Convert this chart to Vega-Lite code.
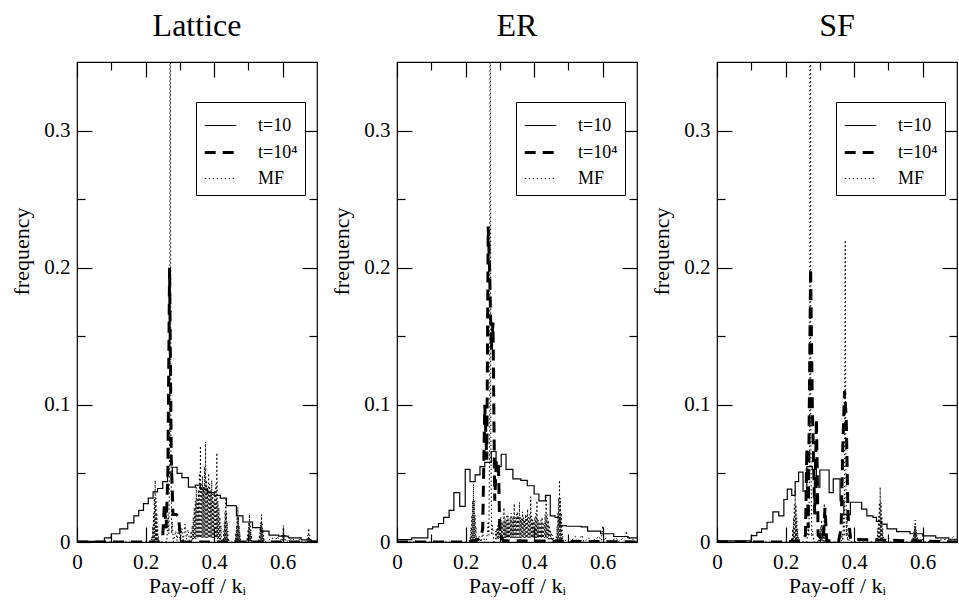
{
  "$schema": "https://vega.github.io/schema/vega-lite/v6.json",
  "padding": {"left": 10, "top": 9, "right": 0, "bottom": 0},
  "spacing": 80,
  "bounds": "flush",
  "resolve": {"scale": {"strokeDash": "independent", "strokeWidth": "independent"}, "legend": {"strokeDash": "independent", "strokeWidth": "independent"}},
  "config": {
    "font": "Liberation Serif",
    "view": {"stroke": "black", "strokeWidth": 1.2},
    "axis": {"domain": false, "grid": false, "tickColor": "black", "tickWidth": 1.2, "labelFont": "Liberation Serif", "labelFontSize": 21, "labelColor": "black", "titleFont": "Liberation Serif", "titleFontSize": 22, "titleFontWeight": "normal", "titleColor": "black", "labelFlush": false, "labelOverlap": false},
    "title": {"font": "Liberation Serif", "fontSize": 32, "fontWeight": "normal", "color": "black", "anchor": "middle", "offset": 18},
    "legend": {"labelFont": "Liberation Serif", "labelFontSize": 18, "labelColor": "black", "symbolType": "stroke", "symbolSize": 1000, "symbolStrokeColor": "black", "strokeColor": "black", "fillColor": "white", "padding": 7, "rowPadding": 0, "labelOffset": 20, "cornerRadius": 0},
    "line": {"color": "black"}
  },
  "hconcat": [
    {
      "title": {"text": "Lattice"},
      "width": 240, "height": 480,
      "data": {"values": [
        {"s":"t=10","x":0,"y":0.0005},{"s":"t=10","x":0.08,"y":0.003},{"s":"t=10","x":0.1,"y":0.006},{"s":"t=10","x":0.125,"y":0.0095},{"s":"t=10","x":0.148,"y":0.014},{"s":"t=10","x":0.166,"y":0.019},{"s":"t=10","x":0.18,"y":0.023},{"s":"t=10","x":0.194,"y":0.028},{"s":"t=10","x":0.208,"y":0.032},{"s":"t=10","x":0.222,"y":0.0365},{"s":"t=10","x":0.235,"y":0.039},{"s":"t=10","x":0.25,"y":0.044},{"s":"t=10","x":0.264,"y":0.051},{"s":"t=10","x":0.278,"y":0.0545},{"s":"t=10","x":0.292,"y":0.05},{"s":"t=10","x":0.306,"y":0.047},{"s":"t=10","x":0.325,"y":0.04},{"s":"t=10","x":0.345,"y":0.0415},{"s":"t=10","x":0.36,"y":0.0385},{"s":"t=10","x":0.38,"y":0.036},{"s":"t=10","x":0.4,"y":0.034},{"s":"t=10","x":0.418,"y":0.032},{"s":"t=10","x":0.436,"y":0.0265},{"s":"t=10","x":0.465,"y":0.019},{"s":"t=10","x":0.484,"y":0.0146},{"s":"t=10","x":0.512,"y":0.0105},{"s":"t=10","x":0.535,"y":0.008},{"s":"t=10","x":0.56,"y":0.005},{"s":"t=10","x":0.588,"y":0.0043},{"s":"t=10","x":0.616,"y":0.003},{"s":"t=10","x":0.654,"y":0.0015},{"s":"t=10","x":0.683,"y":0.0007},{"s":"t=10","x":0.7,"y":0.0007},
        {"s":"t=10⁴","x":0,"y":0},{"s":"t=10⁴","x":0.24,"y":0},{"s":"t=10⁴","x":0.25,"y":0.004},{"s":"t=10⁴","x":0.255,"y":0.028},{"s":"t=10⁴","x":0.26,"y":0.01},{"s":"t=10⁴","x":0.265,"y":0.05},{"s":"t=10⁴","x":0.27,"y":0.2},{"s":"t=10⁴","x":0.275,"y":0.06},{"s":"t=10⁴","x":0.28,"y":0.02},{"s":"t=10⁴","x":0.29,"y":0.02},{"s":"t=10⁴","x":0.296,"y":0.018},{"s":"t=10⁴","x":0.302,"y":0.003},{"s":"t=10⁴","x":0.31,"y":0},{"s":"t=10⁴","x":0.7,"y":0},
        {"s":"MF","x":0,"y":0},{"s":"MF","x":0.2,"y":0},
        {"s":"MF","x":0.216,"y":0},{"s":"MF","x":0.2172,"y":0.0005},{"s":"MF","x":0.2184,"y":0.004},{"s":"MF","x":0.2196,"y":0.0005},{"s":"MF","x":0.2208,"y":0.0114},{"s":"MF","x":0.222,"y":0.001},{"s":"MF","x":0.2232,"y":0.021},{"s":"MF","x":0.2244,"y":0.001},{"s":"MF","x":0.2256,"y":0.032},{"s":"MF","x":0.2268,"y":0.001},{"s":"MF","x":0.228,"y":0.045},{"s":"MF","x":0.2292,"y":0.001},{"s":"MF","x":0.2304,"y":0.032},{"s":"MF","x":0.2316,"y":0.001},{"s":"MF","x":0.2328,"y":0.021},{"s":"MF","x":0.234,"y":0.001},{"s":"MF","x":0.2352,"y":0.0114},{"s":"MF","x":0.2364,"y":0.0005},{"s":"MF","x":0.2376,"y":0.004},{"s":"MF","x":0.2388,"y":0.0005},{"s":"MF","x":0.24,"y":0},
        {"s":"MF","x":0.262,"y":0},{"s":"MF","x":0.266,"y":0.02},{"s":"MF","x":0.268,"y":0.006},{"s":"MF","x":0.2705,"y":0.08},{"s":"MF","x":0.2715,"y":0.5},{"s":"MF","x":0.2725,"y":0.5},{"s":"MF","x":0.2735,"y":0.08},{"s":"MF","x":0.276,"y":0.006},{"s":"MF","x":0.278,"y":0.015},{"s":"MF","x":0.281,"y":0},
        {"s":"MF","x":0.288,"y":0.008},{"s":"MF","x":0.292,"y":0.001},{"s":"MF","x":0.297,"y":0.012},{"s":"MF","x":0.301,"y":0.001},{"s":"MF","x":0.306,"y":0.01},{"s":"MF","x":0.31,"y":0.001},{"s":"MF","x":0.315,"y":0.013},{"s":"MF","x":0.319,"y":0.002},{"s":"MF","x":0.324,"y":0.009},{"s":"MF","x":0.328,"y":0.001},
        {"s":"MF","x":0.33,"y":0.002},{"s":"MF","x":0.333,"y":0.008},{"s":"MF","x":0.3345,"y":0.001},{"s":"MF","x":0.336,"y":0.012},{"s":"MF","x":0.3375,"y":0.001},{"s":"MF","x":0.339,"y":0.018},{"s":"MF","x":0.3405,"y":0.002},{"s":"MF","x":0.342,"y":0.025},{"s":"MF","x":0.3435,"y":0.002},{"s":"MF","x":0.345,"y":0.03},{"s":"MF","x":0.3465,"y":0.002},{"s":"MF","x":0.348,"y":0.04},{"s":"MF","x":0.3495,"y":0.003},{"s":"MF","x":0.351,"y":0.032},{"s":"MF","x":0.3525,"y":0.003},{"s":"MF","x":0.354,"y":0.038},{"s":"MF","x":0.3555,"y":0.003},{"s":"MF","x":0.357,"y":0.05},{"s":"MF","x":0.3585,"y":0.003},{"s":"MF","x":0.36,"y":0.07},{"s":"MF","x":0.3615,"y":0.003},{"s":"MF","x":0.363,"y":0.042},{"s":"MF","x":0.3645,"y":0.003},{"s":"MF","x":0.366,"y":0.048},{"s":"MF","x":0.3675,"y":0.003},{"s":"MF","x":0.369,"y":0.04},{"s":"MF","x":0.3705,"y":0.003},{"s":"MF","x":0.372,"y":0.055},{"s":"MF","x":0.3735,"y":0.003},{"s":"MF","x":0.375,"y":0.073},{"s":"MF","x":0.3765,"y":0.003},{"s":"MF","x":0.378,"y":0.045},{"s":"MF","x":0.3795,"y":0.003},{"s":"MF","x":0.381,"y":0.04},{"s":"MF","x":0.3825,"y":0.003},{"s":"MF","x":0.384,"y":0.05},{"s":"MF","x":0.3855,"y":0.003},{"s":"MF","x":0.387,"y":0.042},{"s":"MF","x":0.3885,"y":0.003},{"s":"MF","x":0.39,"y":0.038},{"s":"MF","x":0.3915,"y":0.003},{"s":"MF","x":0.393,"y":0.045},{"s":"MF","x":0.3945,"y":0.003},{"s":"MF","x":0.396,"y":0.035},{"s":"MF","x":0.3975,"y":0.003},{"s":"MF","x":0.399,"y":0.03},{"s":"MF","x":0.4005,"y":0.003},{"s":"MF","x":0.402,"y":0.038},{"s":"MF","x":0.4035,"y":0.003},{"s":"MF","x":0.405,"y":0.042},{"s":"MF","x":0.4065,"y":0.003},{"s":"MF","x":0.408,"y":0.065},{"s":"MF","x":0.4095,"y":0.002},{"s":"MF","x":0.411,"y":0.03},{"s":"MF","x":0.4125,"y":0.002},{"s":"MF","x":0.414,"y":0.025},{"s":"MF","x":0.4155,"y":0.002},{"s":"MF","x":0.417,"y":0.018},{"s":"MF","x":0.4185,"y":0.001},{"s":"MF","x":0.42,"y":0.012},{"s":"MF","x":0.4215,"y":0.001},{"s":"MF","x":0.423,"y":0},
        {"s":"MF","x":0.424,"y":0},{"s":"MF","x":0.425,"y":0.0003},{"s":"MF","x":0.426,"y":0.0028},{"s":"MF","x":0.427,"y":0.0003},{"s":"MF","x":0.428,"y":0.0078},{"s":"MF","x":0.429,"y":0.0005},{"s":"MF","x":0.43,"y":0.0144},{"s":"MF","x":0.431,"y":0.0005},{"s":"MF","x":0.432,"y":0.022},{"s":"MF","x":0.433,"y":0.0008},{"s":"MF","x":0.434,"y":0.031},{"s":"MF","x":0.435,"y":0.0008},{"s":"MF","x":0.436,"y":0.022},{"s":"MF","x":0.437,"y":0.0005},{"s":"MF","x":0.438,"y":0.0144},{"s":"MF","x":0.439,"y":0.0005},{"s":"MF","x":0.44,"y":0.0078},{"s":"MF","x":0.441,"y":0.0003},{"s":"MF","x":0.442,"y":0.0028},{"s":"MF","x":0.443,"y":0.0003},{"s":"MF","x":0.444,"y":0},
        {"s":"MF","x":0.459,"y":0},{"s":"MF","x":0.46,"y":0.0003},{"s":"MF","x":0.461,"y":0.0023},{"s":"MF","x":0.462,"y":0.0003},{"s":"MF","x":0.463,"y":0.0065},{"s":"MF","x":0.464,"y":0.0005},{"s":"MF","x":0.465,"y":0.0119},{"s":"MF","x":0.466,"y":0.0005},{"s":"MF","x":0.467,"y":0.0183},{"s":"MF","x":0.468,"y":0.0008},{"s":"MF","x":0.469,"y":0.0255},{"s":"MF","x":0.47,"y":0.0008},{"s":"MF","x":0.471,"y":0.0183},{"s":"MF","x":0.472,"y":0.0005},{"s":"MF","x":0.473,"y":0.0119},{"s":"MF","x":0.474,"y":0.0005},{"s":"MF","x":0.475,"y":0.0065},{"s":"MF","x":0.476,"y":0.0003},{"s":"MF","x":0.477,"y":0.0023},{"s":"MF","x":0.478,"y":0.0003},{"s":"MF","x":0.479,"y":0},
        {"s":"MF","x":0.493,"y":0},{"s":"MF","x":0.494,"y":0.0003},{"s":"MF","x":0.495,"y":0.0018},{"s":"MF","x":0.496,"y":0.0003},{"s":"MF","x":0.497,"y":0.0051},{"s":"MF","x":0.498,"y":0.0004},{"s":"MF","x":0.499,"y":0.0093},{"s":"MF","x":0.5,"y":0.0005},{"s":"MF","x":0.501,"y":0.0143},{"s":"MF","x":0.502,"y":0.0006},{"s":"MF","x":0.503,"y":0.02},{"s":"MF","x":0.504,"y":0.0006},{"s":"MF","x":0.505,"y":0.0143},{"s":"MF","x":0.506,"y":0.0005},{"s":"MF","x":0.507,"y":0.0093},{"s":"MF","x":0.508,"y":0.0004},{"s":"MF","x":0.509,"y":0.0051},{"s":"MF","x":0.51,"y":0.0003},{"s":"MF","x":0.511,"y":0.0018},{"s":"MF","x":0.512,"y":0.0003},{"s":"MF","x":0.513,"y":0},
        {"s":"MF","x":0.528,"y":0},{"s":"MF","x":0.529,"y":0.0003},{"s":"MF","x":0.53,"y":0.0018},{"s":"MF","x":0.531,"y":0.0003},{"s":"MF","x":0.532,"y":0.0051},{"s":"MF","x":0.533,"y":0.0004},{"s":"MF","x":0.534,"y":0.0093},{"s":"MF","x":0.535,"y":0.0005},{"s":"MF","x":0.536,"y":0.0143},{"s":"MF","x":0.537,"y":0.0006},{"s":"MF","x":0.538,"y":0.02},{"s":"MF","x":0.539,"y":0.0006},{"s":"MF","x":0.54,"y":0.0143},{"s":"MF","x":0.541,"y":0.0005},{"s":"MF","x":0.542,"y":0.0093},{"s":"MF","x":0.543,"y":0.0004},{"s":"MF","x":0.544,"y":0.0051},{"s":"MF","x":0.545,"y":0.0003},{"s":"MF","x":0.546,"y":0.0018},{"s":"MF","x":0.547,"y":0.0003},{"s":"MF","x":0.548,"y":0},
        {"s":"MF","x":0.57,"y":0.003},{"s":"MF","x":0.575,"y":0},{"s":"MF","x":0.585,"y":0.004},{"s":"MF","x":0.59,"y":0},{"s":"MF","x":0.594,"y":0},{"s":"MF","x":0.598,"y":0.006},{"s":"MF","x":0.6,"y":0.001},{"s":"MF","x":0.602,"y":0.012},{"s":"MF","x":0.604,"y":0.001},{"s":"MF","x":0.606,"y":0.006},{"s":"MF","x":0.61,"y":0},{"s":"MF","x":0.63,"y":0.003},{"s":"MF","x":0.635,"y":0},{"s":"MF","x":0.65,"y":0.002},{"s":"MF","x":0.655,"y":0},{"s":"MF","x":0.67,"y":0},{"s":"MF","x":0.673,"y":0.005},{"s":"MF","x":0.675,"y":0.001},{"s":"MF","x":0.676,"y":0.01},{"s":"MF","x":0.677,"y":0.001},{"s":"MF","x":0.679,"y":0.005},{"s":"MF","x":0.682,"y":0},{"s":"MF","x":0.7,"y":0}
      ]},
      "layer": [
        {"transform": [{"filter": {"field": "s", "equal": "t=10"}}],
         "mark": {"type": "line", "interpolate": "step-after", "clip": true},
         "encoding": {
           "x": {"field": "x", "type": "quantitative", "scale": {"domain": [0, 0.7], "nice": false}, "axis": {"orient": "bottom", "values": [0,0.1,0.2,0.3,0.4,0.5,0.6], "labelExpr": "round(datum.value*10)%2==0 ? (datum.value==0 ? '0' : format(datum.value,'.1f')) : ''", "tickSize": {"condition": {"test": "round(datum.value*10)%2==0", "value": -15}, "value": -8}, "labelPadding": 24, "title": "Pay-off / kᵢ", "titlePadding": -4}},
           "y": {"field": "y", "type": "quantitative", "scale": {"domain": [0, 0.35], "nice": false}, "axis": {"orient": "left", "values": [0,0.05,0.1,0.15,0.2,0.25,0.3], "labelExpr": "round(datum.value*100)%10==0 ? (datum.value==0 ? '0' : format(datum.value,'.1f')) : ''", "tickSize": {"condition": {"test": "round(datum.value*100)%10==0", "value": -15}, "value": -8}, "labelPadding": 22, "title": "frequency", "titlePadding": 10, "titleY": 189}},
           "strokeDash": {"field": "s", "type": "nominal", "scale": {"domain": ["t=10","t=10⁴","MF"], "range": [[1,0],[11,7],[1.5,2.5]]}, "legend": {"title": null, "orient": "none", "legendX": 119, "legendY": 40}},
           "strokeWidth": {"field": "s", "type": "nominal", "scale": {"type": "ordinal", "domain": ["t=10","t=10⁴","MF"], "range": [1.2,3,1]}, "legend": {"title": null, "orient": "none", "legendX": 119, "legendY": 40}}
         }},
        {"transform": [{"filter": {"field": "s", "equal": "t=10⁴"}}],
         "mark": {"type": "line", "clip": true},
         "encoding": {
           "x": {"field": "x", "type": "quantitative", "scale": {"domain": [0, 0.7], "nice": false}, "axis": {"orient": "top", "values": [0,0.1,0.2,0.3,0.4,0.5,0.6], "labels": false, "tickSize": {"condition": {"test": "round(datum.value*10)%2==0", "value": -15}, "value": -8}, "title": null}},
           "y": {"field": "y", "type": "quantitative", "scale": {"domain": [0, 0.35], "nice": false}, "axis": {"orient": "right", "values": [0,0.05,0.1,0.15,0.2,0.25,0.3], "labels": false, "tickSize": {"condition": {"test": "round(datum.value*100)%10==0", "value": -15}, "value": -8}, "title": null}},
           "strokeDash": {"field": "s", "type": "nominal", "scale": {"domain": ["t=10","t=10⁴","MF"], "range": [[1,0],[11,7],[1.5,2.5]]}, "legend": {"title": null, "orient": "none", "legendX": 119, "legendY": 40}},
           "strokeWidth": {"field": "s", "type": "nominal", "scale": {"type": "ordinal", "domain": ["t=10","t=10⁴","MF"], "range": [1.2,3,1]}, "legend": {"title": null, "orient": "none", "legendX": 119, "legendY": 40}}
         }},
        {"transform": [{"filter": {"field": "s", "equal": "MF"}}],
         "mark": {"type": "line", "clip": true},
         "encoding": {
           "x": {"field": "x", "type": "quantitative", "scale": {"domain": [0, 0.7], "nice": false}, "axis": null},
           "y": {"field": "y", "type": "quantitative", "scale": {"domain": [0, 0.35], "nice": false}, "axis": null},
           "strokeDash": {"field": "s", "type": "nominal", "scale": {"domain": ["t=10","t=10⁴","MF"], "range": [[1,0],[11,7],[1.5,2.5]]}, "legend": {"title": null, "orient": "none", "legendX": 119, "legendY": 40}},
           "strokeWidth": {"field": "s", "type": "nominal", "scale": {"type": "ordinal", "domain": ["t=10","t=10⁴","MF"], "range": [1.2,3,1]}, "legend": {"title": null, "orient": "none", "legendX": 119, "legendY": 40}}
         }}
      ],
      "resolve": {"axis": {"x": "independent", "y": "independent"}}
    },
    {
      "title": {"text": "ER"},
      "width": 240, "height": 480,
      "data": {"values": [
        {"s":"t=10","x":0,"y":0.0017},{"s":"t=10","x":0.043,"y":0.003},{"s":"t=10","x":0.09,"y":0.0095},{"s":"t=10","x":0.104,"y":0.011},{"s":"t=10","x":0.121,"y":0.0135},{"s":"t=10","x":0.136,"y":0.018},{"s":"t=10","x":0.152,"y":0.023},{"s":"t=10","x":0.166,"y":0.036},{"s":"t=10","x":0.183,"y":0.026},{"s":"t=10","x":0.199,"y":0.053},{"s":"t=10","x":0.213,"y":0.044},{"s":"t=10","x":0.228,"y":0.049},{"s":"t=10","x":0.242,"y":0.055},{"s":"t=10","x":0.256,"y":0.058},{"s":"t=10","x":0.275,"y":0.066},{"s":"t=10","x":0.289,"y":0.055},{"s":"t=10","x":0.304,"y":0.064},{"s":"t=10","x":0.318,"y":0.053},{"s":"t=10","x":0.338,"y":0.046},{"s":"t=10","x":0.361,"y":0.045},{"s":"t=10","x":0.38,"y":0.041},{"s":"t=10","x":0.4,"y":0.035},{"s":"t=10","x":0.414,"y":0.03},{"s":"t=10","x":0.433,"y":0.034},{"s":"t=10","x":0.447,"y":0.019},{"s":"t=10","x":0.461,"y":0.018},{"s":"t=10","x":0.475,"y":0.012},{"s":"t=10","x":0.494,"y":0.0115},{"s":"t=10","x":0.537,"y":0.011},{"s":"t=10","x":0.556,"y":0.008},{"s":"t=10","x":0.594,"y":0.006},{"s":"t=10","x":0.632,"y":0.004},{"s":"t=10","x":0.674,"y":0.003},{"s":"t=10","x":0.7,"y":0.003},
        {"s":"t=10⁴","x":0,"y":0},{"s":"t=10⁴","x":0.2,"y":0},{"s":"t=10⁴","x":0.23,"y":0.001},{"s":"t=10⁴","x":0.245,"y":0.003},{"s":"t=10⁴","x":0.25,"y":0.01},{"s":"t=10⁴","x":0.256,"y":0.1},{"s":"t=10⁴","x":0.262,"y":0.06},{"s":"t=10⁴","x":0.266,"y":0.23},{"s":"t=10⁴","x":0.27,"y":0.2},{"s":"t=10⁴","x":0.275,"y":0.14},{"s":"t=10⁴","x":0.28,"y":0.16},{"s":"t=10⁴","x":0.285,"y":0.03},{"s":"t=10⁴","x":0.29,"y":0.06},{"s":"t=10⁴","x":0.296,"y":0.055},{"s":"t=10⁴","x":0.3,"y":0.005},{"s":"t=10⁴","x":0.31,"y":0.001},{"s":"t=10⁴","x":0.7,"y":0},
        {"s":"MF","x":0,"y":0},{"s":"MF","x":0.2,"y":0},
        {"s":"MF","x":0.211,"y":0},{"s":"MF","x":0.2122,"y":0.0005},{"s":"MF","x":0.2134,"y":0.0037},{"s":"MF","x":0.2146,"y":0.0005},{"s":"MF","x":0.2158,"y":0.0106},{"s":"MF","x":0.217,"y":0.001},{"s":"MF","x":0.2182,"y":0.0195},{"s":"MF","x":0.2194,"y":0.001},{"s":"MF","x":0.2206,"y":0.0301},{"s":"MF","x":0.2218,"y":0.001},{"s":"MF","x":0.223,"y":0.042},{"s":"MF","x":0.2242,"y":0.001},{"s":"MF","x":0.2254,"y":0.0301},{"s":"MF","x":0.2266,"y":0.001},{"s":"MF","x":0.2278,"y":0.0195},{"s":"MF","x":0.229,"y":0.001},{"s":"MF","x":0.2302,"y":0.0106},{"s":"MF","x":0.2314,"y":0.0005},{"s":"MF","x":0.2326,"y":0.0037},{"s":"MF","x":0.2338,"y":0.0005},{"s":"MF","x":0.235,"y":0},
        {"s":"MF","x":0.24,"y":0.004},{"s":"MF","x":0.245,"y":0},{"s":"MF","x":0.25,"y":0.006},{"s":"MF","x":0.255,"y":0.001},
        {"s":"MF","x":0.262,"y":0.002},{"s":"MF","x":0.266,"y":0.015},{"s":"MF","x":0.268,"y":0.005},{"s":"MF","x":0.2705,"y":0.08},{"s":"MF","x":0.2715,"y":0.5},{"s":"MF","x":0.2725,"y":0.5},{"s":"MF","x":0.2735,"y":0.08},{"s":"MF","x":0.276,"y":0.005},{"s":"MF","x":0.279,"y":0.012},{"s":"MF","x":0.282,"y":0},
        {"s":"MF","x":0.2865,"y":0.002},{"s":"MF","x":0.288,"y":0.008},{"s":"MF","x":0.2895,"y":0.002},{"s":"MF","x":0.291,"y":0.01},{"s":"MF","x":0.2925,"y":0.002},{"s":"MF","x":0.294,"y":0.012},{"s":"MF","x":0.2955,"y":0.002},{"s":"MF","x":0.297,"y":0.014},{"s":"MF","x":0.2985,"y":0.003},{"s":"MF","x":0.3,"y":0.013},{"s":"MF","x":0.3015,"y":0.003},{"s":"MF","x":0.303,"y":0.018},{"s":"MF","x":0.3045,"y":0.003},{"s":"MF","x":0.306,"y":0.015},{"s":"MF","x":0.3075,"y":0.003},{"s":"MF","x":0.309,"y":0.014},{"s":"MF","x":0.3105,"y":0.003},{"s":"MF","x":0.312,"y":0.025},{"s":"MF","x":0.3135,"y":0.003},{"s":"MF","x":0.315,"y":0.017},{"s":"MF","x":0.3165,"y":0.003},{"s":"MF","x":0.318,"y":0.016},{"s":"MF","x":0.3195,"y":0.003},{"s":"MF","x":0.321,"y":0.02},{"s":"MF","x":0.3225,"y":0.003},{"s":"MF","x":0.324,"y":0.019},{"s":"MF","x":0.3255,"y":0.003},{"s":"MF","x":0.327,"y":0.015},{"s":"MF","x":0.3285,"y":0.003},{"s":"MF","x":0.33,"y":0.018},{"s":"MF","x":0.3315,"y":0.003},{"s":"MF","x":0.333,"y":0.021},{"s":"MF","x":0.3345,"y":0.003},{"s":"MF","x":0.336,"y":0.017},{"s":"MF","x":0.3375,"y":0.003},{"s":"MF","x":0.339,"y":0.019},{"s":"MF","x":0.3405,"y":0.003},{"s":"MF","x":0.342,"y":0.028},{"s":"MF","x":0.3435,"y":0.003},{"s":"MF","x":0.345,"y":0.018},{"s":"MF","x":0.3465,"y":0.003},{"s":"MF","x":0.348,"y":0.02},{"s":"MF","x":0.3495,"y":0.003},{"s":"MF","x":0.351,"y":0.022},{"s":"MF","x":0.3525,"y":0.003},{"s":"MF","x":0.354,"y":0.019},{"s":"MF","x":0.3555,"y":0.003},{"s":"MF","x":0.357,"y":0.029},{"s":"MF","x":0.3585,"y":0.003},{"s":"MF","x":0.36,"y":0.018},{"s":"MF","x":0.3615,"y":0.003},{"s":"MF","x":0.363,"y":0.017},{"s":"MF","x":0.3645,"y":0.003},{"s":"MF","x":0.366,"y":0.022},{"s":"MF","x":0.3675,"y":0.003},{"s":"MF","x":0.369,"y":0.018},{"s":"MF","x":0.3705,"y":0.003},{"s":"MF","x":0.372,"y":0.016},{"s":"MF","x":0.3735,"y":0.003},{"s":"MF","x":0.375,"y":0.02},{"s":"MF","x":0.3765,"y":0.003},{"s":"MF","x":0.378,"y":0.019},{"s":"MF","x":0.3795,"y":0.003},{"s":"MF","x":0.381,"y":0.024},{"s":"MF","x":0.3825,"y":0.003},{"s":"MF","x":0.384,"y":0.018},{"s":"MF","x":0.3855,"y":0.003},{"s":"MF","x":0.387,"y":0.02},{"s":"MF","x":0.3885,"y":0.003},{"s":"MF","x":0.39,"y":0.033},{"s":"MF","x":0.3915,"y":0.003},{"s":"MF","x":0.393,"y":0.019},{"s":"MF","x":0.3945,"y":0.003},{"s":"MF","x":0.396,"y":0.016},{"s":"MF","x":0.3975,"y":0.003},{"s":"MF","x":0.399,"y":0.015},{"s":"MF","x":0.4005,"y":0.003},{"s":"MF","x":0.402,"y":0.018},{"s":"MF","x":0.4035,"y":0.003},{"s":"MF","x":0.405,"y":0.021},{"s":"MF","x":0.4065,"y":0.003},{"s":"MF","x":0.408,"y":0.03},{"s":"MF","x":0.4095,"y":0.003},{"s":"MF","x":0.411,"y":0.017},{"s":"MF","x":0.4125,"y":0.003},{"s":"MF","x":0.414,"y":0.015},{"s":"MF","x":0.4155,"y":0.003},{"s":"MF","x":0.417,"y":0.013},{"s":"MF","x":0.4185,"y":0.003},{"s":"MF","x":0.42,"y":0.016},{"s":"MF","x":0.4215,"y":0.003},{"s":"MF","x":0.423,"y":0.018},{"s":"MF","x":0.4245,"y":0.003},{"s":"MF","x":0.426,"y":0.013},{"s":"MF","x":0.4275,"y":0.003},{"s":"MF","x":0.429,"y":0.014},{"s":"MF","x":0.4305,"y":0.003},{"s":"MF","x":0.432,"y":0.02},{"s":"MF","x":0.4335,"y":0.003},{"s":"MF","x":0.435,"y":0.033},{"s":"MF","x":0.4365,"y":0.003},{"s":"MF","x":0.438,"y":0.02},{"s":"MF","x":0.4395,"y":0.003},{"s":"MF","x":0.441,"y":0.016},{"s":"MF","x":0.4425,"y":0.002},{"s":"MF","x":0.444,"y":0.012},{"s":"MF","x":0.4455,"y":0.002},{"s":"MF","x":0.447,"y":0.009},{"s":"MF","x":0.4485,"y":0.002},{"s":"MF","x":0.45,"y":0.007},{"s":"MF","x":0.4515,"y":0.001},{"s":"MF","x":0.453,"y":0.005},{"s":"MF","x":0.4545,"y":0.001},{"s":"MF","x":0.456,"y":0.003},{"s":"MF","x":0.458,"y":0},
        {"s":"MF","x":0.462,"y":0},{"s":"MF","x":0.4632,"y":0.0005},{"s":"MF","x":0.4644,"y":0.004},{"s":"MF","x":0.4656,"y":0.0005},{"s":"MF","x":0.4668,"y":0.0114},{"s":"MF","x":0.468,"y":0.001},{"s":"MF","x":0.4692,"y":0.021},{"s":"MF","x":0.4704,"y":0.001},{"s":"MF","x":0.4716,"y":0.032},{"s":"MF","x":0.4728,"y":0.001},{"s":"MF","x":0.474,"y":0.045},{"s":"MF","x":0.4752,"y":0.001},{"s":"MF","x":0.4764,"y":0.032},{"s":"MF","x":0.4776,"y":0.001},{"s":"MF","x":0.4788,"y":0.021},{"s":"MF","x":0.48,"y":0.001},{"s":"MF","x":0.4812,"y":0.0114},{"s":"MF","x":0.4824,"y":0.0005},{"s":"MF","x":0.4836,"y":0.004},{"s":"MF","x":0.4848,"y":0.0005},{"s":"MF","x":0.486,"y":0},
        {"s":"MF","x":0.5,"y":0.003},{"s":"MF","x":0.505,"y":0},{"s":"MF","x":0.52,"y":0.004},{"s":"MF","x":0.525,"y":0},{"s":"MF","x":0.54,"y":0.005},{"s":"MF","x":0.545,"y":0},{"s":"MF","x":0.56,"y":0.003},{"s":"MF","x":0.565,"y":0},{"s":"MF","x":0.59,"y":0.004},{"s":"MF","x":0.596,"y":0.001},{"s":"MF","x":0.6,"y":0.012},{"s":"MF","x":0.604,"y":0.001},{"s":"MF","x":0.61,"y":0.003},{"s":"MF","x":0.615,"y":0},{"s":"MF","x":0.64,"y":0.003},{"s":"MF","x":0.645,"y":0},{"s":"MF","x":0.665,"y":0.004},{"s":"MF","x":0.669,"y":0.008},{"s":"MF","x":0.673,"y":0.002},{"s":"MF","x":0.68,"y":0.003},{"s":"MF","x":0.7,"y":0}
      ]},
      "layer": [
        {"transform": [{"filter": {"field": "s", "equal": "t=10"}}],
         "mark": {"type": "line", "interpolate": "step-after", "clip": true},
         "encoding": {
           "x": {"field": "x", "type": "quantitative", "scale": {"domain": [0, 0.7], "nice": false}, "axis": {"orient": "bottom", "values": [0,0.1,0.2,0.3,0.4,0.5,0.6], "labelExpr": "round(datum.value*10)%2==0 ? (datum.value==0 ? '0' : format(datum.value,'.1f')) : ''", "tickSize": {"condition": {"test": "round(datum.value*10)%2==0", "value": -15}, "value": -8}, "labelPadding": 24, "title": "Pay-off / kᵢ", "titlePadding": -4}},
           "y": {"field": "y", "type": "quantitative", "scale": {"domain": [0, 0.35], "nice": false}, "axis": {"orient": "left", "values": [0,0.05,0.1,0.15,0.2,0.25,0.3], "labelExpr": "round(datum.value*100)%10==0 ? (datum.value==0 ? '0' : format(datum.value,'.1f')) : ''", "tickSize": {"condition": {"test": "round(datum.value*100)%10==0", "value": -15}, "value": -8}, "labelPadding": 22, "title": "frequency", "titlePadding": 10, "titleY": 189}},
           "strokeDash": {"field": "s", "type": "nominal", "scale": {"domain": ["t=10","t=10⁴","MF"], "range": [[1,0],[11,7],[1.5,2.5]]}, "legend": {"title": null, "orient": "none", "legendX": 119, "legendY": 40}},
           "strokeWidth": {"field": "s", "type": "nominal", "scale": {"type": "ordinal", "domain": ["t=10","t=10⁴","MF"], "range": [1.2,3,1]}, "legend": {"title": null, "orient": "none", "legendX": 119, "legendY": 40}}
         }},
        {"transform": [{"filter": {"field": "s", "equal": "t=10⁴"}}],
         "mark": {"type": "line", "clip": true},
         "encoding": {
           "x": {"field": "x", "type": "quantitative", "scale": {"domain": [0, 0.7], "nice": false}, "axis": {"orient": "top", "values": [0,0.1,0.2,0.3,0.4,0.5,0.6], "labels": false, "tickSize": {"condition": {"test": "round(datum.value*10)%2==0", "value": -15}, "value": -8}, "title": null}},
           "y": {"field": "y", "type": "quantitative", "scale": {"domain": [0, 0.35], "nice": false}, "axis": {"orient": "right", "values": [0,0.05,0.1,0.15,0.2,0.25,0.3], "labels": false, "tickSize": {"condition": {"test": "round(datum.value*100)%10==0", "value": -15}, "value": -8}, "title": null}},
           "strokeDash": {"field": "s", "type": "nominal", "scale": {"domain": ["t=10","t=10⁴","MF"], "range": [[1,0],[11,7],[1.5,2.5]]}, "legend": {"title": null, "orient": "none", "legendX": 119, "legendY": 40}},
           "strokeWidth": {"field": "s", "type": "nominal", "scale": {"type": "ordinal", "domain": ["t=10","t=10⁴","MF"], "range": [1.2,3,1]}, "legend": {"title": null, "orient": "none", "legendX": 119, "legendY": 40}}
         }},
        {"transform": [{"filter": {"field": "s", "equal": "MF"}}],
         "mark": {"type": "line", "clip": true},
         "encoding": {
           "x": {"field": "x", "type": "quantitative", "scale": {"domain": [0, 0.7], "nice": false}, "axis": null},
           "y": {"field": "y", "type": "quantitative", "scale": {"domain": [0, 0.35], "nice": false}, "axis": null},
           "strokeDash": {"field": "s", "type": "nominal", "scale": {"domain": ["t=10","t=10⁴","MF"], "range": [[1,0],[11,7],[1.5,2.5]]}, "legend": {"title": null, "orient": "none", "legendX": 119, "legendY": 40}},
           "strokeWidth": {"field": "s", "type": "nominal", "scale": {"type": "ordinal", "domain": ["t=10","t=10⁴","MF"], "range": [1.2,3,1]}, "legend": {"title": null, "orient": "none", "legendX": 119, "legendY": 40}}
         }}
      ],
      "resolve": {"axis": {"x": "independent", "y": "independent"}}
    },
    {
      "title": {"text": "SF"},
      "width": 240, "height": 480,
      "data": {"values": [
        {"s":"t=10","x":0,"y":0.0008},{"s":"t=10","x":0.1,"y":0.0046},{"s":"t=10","x":0.116,"y":0.007},{"s":"t=10","x":0.13,"y":0.0095},{"s":"t=10","x":0.146,"y":0.0144},{"s":"t=10","x":0.163,"y":0.022},{"s":"t=10","x":0.18,"y":0.019},{"s":"t=10","x":0.195,"y":0.031},{"s":"t=10","x":0.205,"y":0.0386},{"s":"t=10","x":0.218,"y":0.034},{"s":"t=10","x":0.228,"y":0.044},{"s":"t=10","x":0.238,"y":0.051},{"s":"t=10","x":0.251,"y":0.037},{"s":"t=10","x":0.262,"y":0.055},{"s":"t=10","x":0.278,"y":0.053},{"s":"t=10","x":0.29,"y":0.04},{"s":"t=10","x":0.3,"y":0.0525},{"s":"t=10","x":0.327,"y":0.036},{"s":"t=10","x":0.339,"y":0.046},{"s":"t=10","x":0.359,"y":0.03},{"s":"t=10","x":0.37,"y":0.02},{"s":"t=10","x":0.389,"y":0.029},{"s":"t=10","x":0.422,"y":0.024},{"s":"t=10","x":0.437,"y":0.019},{"s":"t=10","x":0.455,"y":0.018},{"s":"t=10","x":0.465,"y":0.015},{"s":"t=10","x":0.48,"y":0.013},{"s":"t=10","x":0.496,"y":0.0095},{"s":"t=10","x":0.524,"y":0.0075},{"s":"t=10","x":0.563,"y":0.006},{"s":"t=10","x":0.6,"y":0.0044},{"s":"t=10","x":0.638,"y":0.003},{"s":"t=10","x":0.676,"y":0.002},{"s":"t=10","x":0.7,"y":0.002},
        {"s":"t=10⁴","x":0,"y":0},{"s":"t=10⁴","x":0.2,"y":0},{"s":"t=10⁴","x":0.25,"y":0.001},{"s":"t=10⁴","x":0.258,"y":0.005},{"s":"t=10⁴","x":0.262,"y":0.068},{"s":"t=10⁴","x":0.266,"y":0.01},{"s":"t=10⁴","x":0.27,"y":0.12},{"s":"t=10⁴","x":0.273,"y":0.2},{"s":"t=10⁴","x":0.278,"y":0.1},{"s":"t=10⁴","x":0.285,"y":0.02},{"s":"t=10⁴","x":0.29,"y":0.09},{"s":"t=10⁴","x":0.295,"y":0.005},{"s":"t=10⁴","x":0.31,"y":0.001},{"s":"t=10⁴","x":0.315,"y":0.025},{"s":"t=10⁴","x":0.32,"y":0.001},{"s":"t=10⁴","x":0.355,"y":0.001},{"s":"t=10⁴","x":0.362,"y":0.01},{"s":"t=10⁴","x":0.367,"y":0.07},{"s":"t=10⁴","x":0.372,"y":0.11},{"s":"t=10⁴","x":0.377,"y":0.09},{"s":"t=10⁴","x":0.382,"y":0.02},{"s":"t=10⁴","x":0.39,"y":0.002},{"s":"t=10⁴","x":0.7,"y":0},
        {"s":"MF","x":0,"y":0},{"s":"MF","x":0.2,"y":0},
        {"s":"MF","x":0.216,"y":0},{"s":"MF","x":0.2172,"y":0.0005},{"s":"MF","x":0.2184,"y":0.0034},{"s":"MF","x":0.2196,"y":0.0005},{"s":"MF","x":0.2208,"y":0.0096},{"s":"MF","x":0.222,"y":0.001},{"s":"MF","x":0.2232,"y":0.0177},{"s":"MF","x":0.2244,"y":0.001},{"s":"MF","x":0.2256,"y":0.0272},{"s":"MF","x":0.2268,"y":0.001},{"s":"MF","x":0.228,"y":0.038},{"s":"MF","x":0.2292,"y":0.001},{"s":"MF","x":0.2304,"y":0.0272},{"s":"MF","x":0.2316,"y":0.001},{"s":"MF","x":0.2328,"y":0.0177},{"s":"MF","x":0.234,"y":0.001},{"s":"MF","x":0.2352,"y":0.0096},{"s":"MF","x":0.2364,"y":0.0005},{"s":"MF","x":0.2376,"y":0.0034},{"s":"MF","x":0.2388,"y":0.0005},{"s":"MF","x":0.24,"y":0},
        {"s":"MF","x":0.262,"y":0},{"s":"MF","x":0.266,"y":0.01},{"s":"MF","x":0.268,"y":0.004},{"s":"MF","x":0.2705,"y":0.08},{"s":"MF","x":0.2715,"y":0.5},{"s":"MF","x":0.2725,"y":0.5},{"s":"MF","x":0.2735,"y":0.08},{"s":"MF","x":0.276,"y":0.004},{"s":"MF","x":0.279,"y":0.008},{"s":"MF","x":0.282,"y":0},
        {"s":"MF","x":0.293,"y":0},{"s":"MF","x":0.2942,"y":0.0003},{"s":"MF","x":0.2954,"y":0.0014},{"s":"MF","x":0.2966,"y":0.0003},{"s":"MF","x":0.2978,"y":0.004},{"s":"MF","x":0.299,"y":0.0005},{"s":"MF","x":0.3002,"y":0.0074},{"s":"MF","x":0.3014,"y":0.0005},{"s":"MF","x":0.3026,"y":0.0115},{"s":"MF","x":0.3038,"y":0.0008},{"s":"MF","x":0.305,"y":0.016},{"s":"MF","x":0.3062,"y":0.0008},{"s":"MF","x":0.3074,"y":0.0115},{"s":"MF","x":0.3086,"y":0.0005},{"s":"MF","x":0.3098,"y":0.0074},{"s":"MF","x":0.311,"y":0.0005},{"s":"MF","x":0.3122,"y":0.004},{"s":"MF","x":0.313,"y":0.028},{"s":"MF","x":0.3134,"y":0.0003},{"s":"MF","x":0.3146,"y":0.0014},{"s":"MF","x":0.3158,"y":0.0003},{"s":"MF","x":0.317,"y":0},
        {"s":"MF","x":0.362,"y":0},{"s":"MF","x":0.365,"y":0.006},{"s":"MF","x":0.367,"y":0.001},{"s":"MF","x":0.369,"y":0.02},{"s":"MF","x":0.371,"y":0.004},{"s":"MF","x":0.3725,"y":0.08},{"s":"MF","x":0.3735,"y":0.22},{"s":"MF","x":0.3745,"y":0.22},{"s":"MF","x":0.3755,"y":0.08},{"s":"MF","x":0.377,"y":0.004},{"s":"MF","x":0.379,"y":0.02},{"s":"MF","x":0.381,"y":0.001},{"s":"MF","x":0.383,"y":0.006},{"s":"MF","x":0.386,"y":0},
        {"s":"MF","x":0.464,"y":0},{"s":"MF","x":0.4652,"y":0.0005},{"s":"MF","x":0.4664,"y":0.0036},{"s":"MF","x":0.4676,"y":0.0005},{"s":"MF","x":0.4688,"y":0.0101},{"s":"MF","x":0.47,"y":0.001},{"s":"MF","x":0.4712,"y":0.0186},{"s":"MF","x":0.4724,"y":0.001},{"s":"MF","x":0.4736,"y":0.0286},{"s":"MF","x":0.4748,"y":0.001},{"s":"MF","x":0.476,"y":0.04},{"s":"MF","x":0.4772,"y":0.001},{"s":"MF","x":0.4784,"y":0.0286},{"s":"MF","x":0.4796,"y":0.001},{"s":"MF","x":0.4808,"y":0.0186},{"s":"MF","x":0.482,"y":0.001},{"s":"MF","x":0.4832,"y":0.0101},{"s":"MF","x":0.4844,"y":0.0005},{"s":"MF","x":0.4856,"y":0.0036},{"s":"MF","x":0.4868,"y":0.0005},{"s":"MF","x":0.488,"y":0},
        {"s":"MF","x":0.568,"y":0},{"s":"MF","x":0.569,"y":0.0003},{"s":"MF","x":0.57,"y":0.0014},{"s":"MF","x":0.571,"y":0.0003},{"s":"MF","x":0.572,"y":0.004},{"s":"MF","x":0.573,"y":0.0005},{"s":"MF","x":0.574,"y":0.0074},{"s":"MF","x":0.575,"y":0.0005},{"s":"MF","x":0.576,"y":0.0115},{"s":"MF","x":0.577,"y":0.0008},{"s":"MF","x":0.578,"y":0.016},{"s":"MF","x":0.579,"y":0.0008},{"s":"MF","x":0.58,"y":0.0115},{"s":"MF","x":0.581,"y":0.0005},{"s":"MF","x":0.582,"y":0.0074},{"s":"MF","x":0.583,"y":0.0005},{"s":"MF","x":0.584,"y":0.004},{"s":"MF","x":0.585,"y":0.0003},{"s":"MF","x":0.586,"y":0.0014},{"s":"MF","x":0.587,"y":0.0003},{"s":"MF","x":0.588,"y":0},
        {"s":"MF","x":0.6,"y":0.002},{"s":"MF","x":0.605,"y":0},{"s":"MF","x":0.67,"y":0.002},{"s":"MF","x":0.675,"y":0},{"s":"MF","x":0.69,"y":0.004},{"s":"MF","x":0.695,"y":0},{"s":"MF","x":0.7,"y":0}
      ]},
      "layer": [
        {"transform": [{"filter": {"field": "s", "equal": "t=10"}}],
         "mark": {"type": "line", "interpolate": "step-after", "clip": true},
         "encoding": {
           "x": {"field": "x", "type": "quantitative", "scale": {"domain": [0, 0.7], "nice": false}, "axis": {"orient": "bottom", "values": [0,0.1,0.2,0.3,0.4,0.5,0.6], "labelExpr": "round(datum.value*10)%2==0 ? (datum.value==0 ? '0' : format(datum.value,'.1f')) : ''", "tickSize": {"condition": {"test": "round(datum.value*10)%2==0", "value": -15}, "value": -8}, "labelPadding": 24, "title": "Pay-off / kᵢ", "titlePadding": -4}},
           "y": {"field": "y", "type": "quantitative", "scale": {"domain": [0, 0.35], "nice": false}, "axis": {"orient": "left", "values": [0,0.05,0.1,0.15,0.2,0.25,0.3], "labelExpr": "round(datum.value*100)%10==0 ? (datum.value==0 ? '0' : format(datum.value,'.1f')) : ''", "tickSize": {"condition": {"test": "round(datum.value*100)%10==0", "value": -15}, "value": -8}, "labelPadding": 22, "title": "frequency", "titlePadding": 10, "titleY": 189}},
           "strokeDash": {"field": "s", "type": "nominal", "scale": {"domain": ["t=10","t=10⁴","MF"], "range": [[1,0],[11,7],[1.5,2.5]]}, "legend": {"title": null, "orient": "none", "legendX": 119, "legendY": 40}},
           "strokeWidth": {"field": "s", "type": "nominal", "scale": {"type": "ordinal", "domain": ["t=10","t=10⁴","MF"], "range": [1.2,3,1]}, "legend": {"title": null, "orient": "none", "legendX": 119, "legendY": 40}}
         }},
        {"transform": [{"filter": {"field": "s", "equal": "t=10⁴"}}],
         "mark": {"type": "line", "clip": true},
         "encoding": {
           "x": {"field": "x", "type": "quantitative", "scale": {"domain": [0, 0.7], "nice": false}, "axis": {"orient": "top", "values": [0,0.1,0.2,0.3,0.4,0.5,0.6], "labels": false, "tickSize": {"condition": {"test": "round(datum.value*10)%2==0", "value": -15}, "value": -8}, "title": null}},
           "y": {"field": "y", "type": "quantitative", "scale": {"domain": [0, 0.35], "nice": false}, "axis": {"orient": "right", "values": [0,0.05,0.1,0.15,0.2,0.25,0.3], "labels": false, "tickSize": {"condition": {"test": "round(datum.value*100)%10==0", "value": -15}, "value": -8}, "title": null}},
           "strokeDash": {"field": "s", "type": "nominal", "scale": {"domain": ["t=10","t=10⁴","MF"], "range": [[1,0],[11,7],[1.5,2.5]]}, "legend": {"title": null, "orient": "none", "legendX": 119, "legendY": 40}},
           "strokeWidth": {"field": "s", "type": "nominal", "scale": {"type": "ordinal", "domain": ["t=10","t=10⁴","MF"], "range": [1.2,3,1]}, "legend": {"title": null, "orient": "none", "legendX": 119, "legendY": 40}}
         }},
        {"transform": [{"filter": {"field": "s", "equal": "MF"}}],
         "mark": {"type": "line", "clip": true},
         "encoding": {
           "x": {"field": "x", "type": "quantitative", "scale": {"domain": [0, 0.7], "nice": false}, "axis": null},
           "y": {"field": "y", "type": "quantitative", "scale": {"domain": [0, 0.35], "nice": false}, "axis": null},
           "strokeDash": {"field": "s", "type": "nominal", "scale": {"domain": ["t=10","t=10⁴","MF"], "range": [[1,0],[11,7],[1.5,2.5]]}, "legend": {"title": null, "orient": "none", "legendX": 119, "legendY": 40}},
           "strokeWidth": {"field": "s", "type": "nominal", "scale": {"type": "ordinal", "domain": ["t=10","t=10⁴","MF"], "range": [1.2,3,1]}, "legend": {"title": null, "orient": "none", "legendX": 119, "legendY": 40}}
         }}
      ],
      "resolve": {"axis": {"x": "independent", "y": "independent"}}
    }
  ]
}
